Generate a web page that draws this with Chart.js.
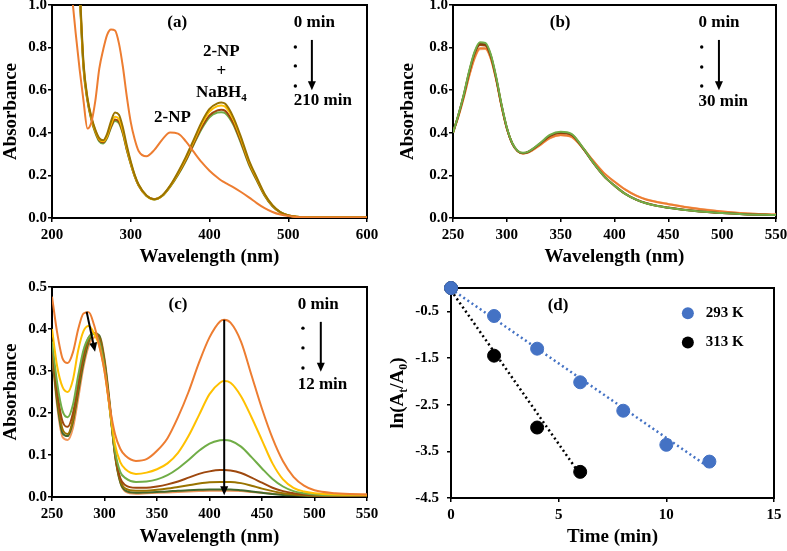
<!DOCTYPE html>
<html>
<head>
<meta charset="utf-8">
<script src="https://cdn.jsdelivr.net/npm/chart.js@4.4.1/dist/chart.umd.min.js"></script>
<style>
  body { margin: 0; background: #fff; width: 787px; height: 551px; position: relative; overflow: hidden; }
  canvas { position: absolute; }
</style>
</head>
<body>
<canvas id="chart-a" width="393" height="272" style="left:0;top:0"></canvas>
<canvas id="chart-b" width="394" height="272" style="left:393px;top:0"></canvas>
<canvas id="chart-c" width="393" height="279" style="left:0;top:272px"></canvas>
<canvas id="chart-d" width="407" height="279" style="left:380px;top:272px"></canvas>
<script>
// ---- panel (a): 2-NP alone vs 2-NP + NaBH4 over 210 min
const wlA = [225, 230, 235, 240, 245, 250, 255, 260, 265, 270, 275, 280, 285, 290, 295,
  300, 305, 310, 320, 330, 340, 350, 360, 370, 380, 390, 400, 410, 415, 420,
  430, 440, 450, 460, 470, 480, 490, 500, 510, 520, 530, 540, 560, 580, 600];
const npA = [1.06, 0.87, 0.70, 0.55, 0.42, 0.45, 0.55, 0.70, 0.79, 0.86, 0.885, 0.88, 0.82, 0.71, 0.57,
  0.45, 0.37, 0.315, 0.29, 0.32, 0.368, 0.401, 0.396, 0.36, 0.31, 0.262, 0.222, 0.19, 0.176, 0.165,
  0.145, 0.122, 0.097, 0.07, 0.046, 0.028, 0.016, 0.009, 0.005, 0.003, 0.002, 0.002, 0.002, 0.002, 0.002];
const olA = [null, null, 1.1, 0.73, 0.565, 0.475, 0.415, 0.375, 0.365, 0.395, 0.455, 0.495, 0.485, 0.425, 0.34,
  0.265, 0.203, 0.157, 0.106, 0.088, 0.106, 0.152, 0.215, 0.287, 0.368, 0.45, 0.512, 0.538, 0.542, 0.536,
  0.475, 0.38, 0.272, 0.19, 0.113, 0.06, 0.028, 0.013, 0.006, 0.003, 0.002, 0.002, 0.002, 0.002, 0.002];
const goA = [null, null, 1.08, 0.72, 0.56, 0.47, 0.41, 0.37, 0.36, 0.385, 0.44, 0.475, 0.465, 0.41, 0.33,
  0.26, 0.2, 0.155, 0.105, 0.088, 0.105, 0.15, 0.21, 0.28, 0.36, 0.44, 0.5, 0.525, 0.528, 0.522,
  0.465, 0.37, 0.265, 0.185, 0.11, 0.058, 0.027, 0.012, 0.006, 0.003, 0.002, 0.002, 0.002, 0.002, 0.002];
const brA = [null, null, 1.07, 0.71, 0.555, 0.465, 0.405, 0.365, 0.355, 0.38, 0.43, 0.462, 0.452, 0.4, 0.322,
  0.255, 0.197, 0.153, 0.104, 0.088, 0.104, 0.148, 0.205, 0.272, 0.35, 0.425, 0.482, 0.505, 0.508, 0.503,
  0.447, 0.357, 0.256, 0.179, 0.107, 0.056, 0.026, 0.012, 0.006, 0.003, 0.002, 0.002, 0.002, 0.002, 0.002];
const grA = [null, null, 1.06, 0.7, 0.55, 0.46, 0.4, 0.36, 0.35, 0.375, 0.425, 0.455, 0.445, 0.395, 0.318,
  0.252, 0.195, 0.152, 0.103, 0.087, 0.103, 0.146, 0.202, 0.268, 0.345, 0.418, 0.473, 0.495, 0.497, 0.492,
  0.44, 0.35, 0.251, 0.176, 0.105, 0.055, 0.026, 0.011, 0.006, 0.003, 0.002, 0.002, 0.002, 0.002, 0.002];

// ---- panel (b): 0 .. 30 min
const wlB = [250, 255, 260, 265, 270, 275, 280, 285, 290, 295, 300, 305, 310, 315, 320,
  330, 340, 350, 360, 370, 380, 390, 400, 410, 420, 430, 440, 450, 460, 470, 480, 500, 520, 550];
const grB = [0.40, 0.485, 0.58, 0.69, 0.78, 0.825, 0.822, 0.77, 0.665, 0.535, 0.425, 0.352, 0.316, 0.306, 0.312,
  0.348, 0.39, 0.405, 0.395, 0.335, 0.262, 0.198, 0.152, 0.113, 0.086, 0.068, 0.056, 0.048, 0.041, 0.035, 0.031, 0.023, 0.018, 0.014];
const dbB = [0.40, 0.483, 0.577, 0.685, 0.775, 0.818, 0.816, 0.765, 0.66, 0.532, 0.423, 0.351, 0.315, 0.305, 0.311,
  0.346, 0.387, 0.401, 0.392, 0.333, 0.261, 0.198, 0.152, 0.113, 0.086, 0.068, 0.056, 0.048, 0.041, 0.035, 0.031, 0.023, 0.018, 0.014];
const brB = [0.40, 0.482, 0.575, 0.682, 0.77, 0.812, 0.81, 0.76, 0.657, 0.53, 0.422, 0.35, 0.314, 0.304, 0.31,
  0.345, 0.385, 0.399, 0.39, 0.332, 0.261, 0.198, 0.152, 0.113, 0.087, 0.069, 0.057, 0.049, 0.042, 0.036, 0.031, 0.023, 0.018, 0.014];
const orB = [0.40, 0.477, 0.567, 0.668, 0.752, 0.797, 0.797, 0.752, 0.652, 0.527, 0.42, 0.35, 0.314, 0.303, 0.308,
  0.34, 0.376, 0.39, 0.382, 0.332, 0.27, 0.212, 0.17, 0.133, 0.105, 0.086, 0.074, 0.065, 0.056, 0.048, 0.041, 0.03, 0.022, 0.016];
const loB = [0.40, 0.475, 0.564, 0.664, 0.747, 0.792, 0.793, 0.748, 0.65, 0.525, 0.419, 0.349, 0.313, 0.302, 0.307,
  0.338, 0.374, 0.388, 0.38, 0.331, 0.27, 0.213, 0.171, 0.134, 0.106, 0.087, 0.075, 0.066, 0.057, 0.049, 0.042, 0.031, 0.022, 0.016];

// ---- panel (c): 0 .. 12 min
const wlC = [250, 255, 260, 265, 270, 275, 280, 285, 290, 295, 300, 305, 310, 315, 320,
  330, 340, 350, 360, 370, 380, 390, 400, 410, 414, 420, 430, 440, 450, 460, 470, 480, 490, 500, 520, 550];
const c0 = [0.477, 0.39, 0.33, 0.319, 0.345, 0.40, 0.437, 0.44, 0.41, 0.36, 0.30, 0.215, 0.15, 0.115, 0.098,
  0.086, 0.09, 0.11, 0.14, 0.19, 0.25, 0.32, 0.38, 0.418, 0.422, 0.415, 0.37, 0.29, 0.21, 0.14, 0.085, 0.048, 0.027, 0.016, 0.009, 0.006];
const c1 = [0.40, 0.31, 0.262, 0.25, 0.28, 0.35, 0.395, 0.407, 0.39, 0.36, 0.30, 0.21, 0.125, 0.083, 0.066,
  0.055, 0.058, 0.066, 0.08, 0.105, 0.145, 0.195, 0.245, 0.272, 0.276, 0.272, 0.24, 0.19, 0.135, 0.08, 0.042, 0.022, 0.013, 0.009, 0.006, 0.005];
const c2 = [0.37, 0.27, 0.205, 0.19, 0.22, 0.29, 0.35, 0.38, 0.388, 0.37, 0.31, 0.21, 0.11, 0.06, 0.045,
  0.036, 0.037, 0.042, 0.052, 0.068, 0.088, 0.11, 0.127, 0.135, 0.136, 0.134, 0.12, 0.095, 0.068, 0.043, 0.025, 0.014, 0.009, 0.006, 0.004, 0.004];
const c3 = [0.36, 0.25, 0.18, 0.167, 0.2, 0.27, 0.34, 0.38, 0.39, 0.375, 0.315, 0.21, 0.105, 0.045, 0.028,
  0.022, 0.022, 0.025, 0.03, 0.037, 0.046, 0.055, 0.061, 0.064, 0.064, 0.063, 0.057, 0.046, 0.034, 0.022, 0.014, 0.009, 0.006, 0.004, 0.003, 0.003];
const c4 = [0.35, 0.235, 0.162, 0.15, 0.185, 0.26, 0.33, 0.375, 0.39, 0.38, 0.32, 0.215, 0.1, 0.04, 0.02,
  0.015, 0.015, 0.017, 0.02, 0.024, 0.028, 0.032, 0.035, 0.036, 0.036, 0.036, 0.033, 0.027, 0.02, 0.014, 0.009, 0.006, 0.004, 0.003, 0.002, 0.002];
const c5 = [0.345, 0.225, 0.152, 0.145, 0.18, 0.25, 0.32, 0.37, 0.39, 0.385, 0.325, 0.22, 0.1, 0.035, 0.015,
  0.01, 0.011, 0.012, 0.013, 0.015, 0.016, 0.017, 0.018, 0.018, 0.018, 0.018, 0.016, 0.013, 0.01, 0.007, 0.005, 0.004, 0.003, 0.002, 0.002, 0.002];
const c6 = [0.34, 0.215, 0.143, 0.136, 0.165, 0.235, 0.31, 0.36, 0.38, 0.383, 0.33, 0.225, 0.105, 0.035, 0.013,
  0.008, 0.009, 0.01, 0.011, 0.012, 0.013, 0.014, 0.015, 0.015, 0.015, 0.015, 0.014, 0.012, 0.01, 0.008, 0.007, 0.006, 0.006, 0.006, 0.006, 0.006];

// ---- panel (d): kinetics
const t293 = [0, 2, 4, 6, 8, 10, 12];
const ln293 = [0, -0.60, -1.30, -2.02, -2.63, -3.36, -3.72];
const t313 = [0, 2, 4, 6];
const ln313 = [0, -1.45, -2.99, -3.94];
const fit293T = [0, 12], fit293Y = [-0.02, -3.85];
const fit313T = [0, 6], fit313Y = [-0.05, -4.0];

// tick labels
const xTicksA = [200, 300, 400, 500, 600];
const xTicksBC = [250, 300, 350, 400, 450, 500, 550];
const yTicksAB = [0, 0.2, 0.4, 0.6, 0.8, 1.0];
const yTicksC = [0, 0.1, 0.2, 0.3, 0.4, 0.5];
const xTicksD = [0, 5, 10, 15];
const yTicksD = [-4.5, -3.5, -2.5, -1.5, -0.5];

const FAM = '"Liberation Serif", "Times New Roman", serif';
Chart.defaults.font.family = FAM;
Chart.defaults.font.weight = "bold";
Chart.defaults.color = "#000";

const pts = (xs, ys) => xs.map((x, i) => ({ x, y: ys[i] }));

function drawRich(ctx, parts, px, py, align, size) {
  const big = `bold ${size}px ${FAM}`;
  const small = `bold ${Math.round(size * 0.65)}px ${FAM}`;
  let w = 0;
  const ws = parts.map(p => { ctx.font = p.sub ? small : big; const m = ctx.measureText(p.t).width; w += m; return m; });
  let cx = align === "left" ? px : align === "right" ? px - w : px - w / 2;
  ctx.textAlign = "left";
  ctx.textBaseline = "middle";
  parts.forEach((p, i) => {
    ctx.font = p.sub ? small : big;
    ctx.fillText(p.t, cx, py + (p.sub ? size * 0.32 : 0));
    cx += ws[i];
  });
}

function arrow(ctx, x1, y1, x2, y2) {
  const ang = Math.atan2(y2 - y1, x2 - x1);
  const hl = 9, hw = 4;
  ctx.beginPath();
  ctx.moveTo(x1, y1);
  ctx.lineTo(x2 - Math.cos(ang) * hl * 0.8, y2 - Math.sin(ang) * hl * 0.8);
  ctx.lineWidth = 2;
  ctx.stroke();
  ctx.beginPath();
  ctx.moveTo(x2, y2);
  ctx.lineTo(x2 - hl * Math.cos(ang) + hw * Math.sin(ang), y2 - hl * Math.sin(ang) - hw * Math.cos(ang));
  ctx.lineTo(x2 - hl * Math.cos(ang) - hw * Math.sin(ang), y2 - hl * Math.sin(ang) + hw * Math.cos(ang));
  ctx.closePath();
  ctx.fill();
}

const notes = {
  id: "notes",
  beforeDatasetsDraw(chart) {
    const { ctx, chartArea: ca } = chart;
    ctx.save();
    ctx.strokeStyle = "#000";
    ctx.lineWidth = 2;
    ctx.strokeRect(ca.left, ca.top, ca.right - ca.left, ca.bottom - ca.top);
    ctx.restore();
  },
  afterDraw(chart, args, opts) {
    const { ctx, chartArea: ca, scales: { x, y } } = chart;
    ctx.save();
    ctx.fillStyle = "#000";
    ctx.strokeStyle = "#000";
    (opts.texts || []).forEach(t => {
      const parts = typeof t.text === "string" ? [{ t: t.text }] : t.text;
      drawRich(ctx, parts, x.getPixelForValue(t.x), y.getPixelForValue(t.y), t.align || "center", t.size || 17);
    });
    (opts.dots || []).forEach(d => {
      ctx.beginPath();
      ctx.arc(x.getPixelForValue(d[0]), y.getPixelForValue(d[1]), 1.7, 0, Math.PI * 2);
      ctx.fill();
    });
    (opts.arrows || []).forEach(a => arrow(ctx, x.getPixelForValue(a[0]), y.getPixelForValue(a[1]), x.getPixelForValue(a[2]), y.getPixelForValue(a[3])));
    (opts.legend || []).forEach(l => {
      ctx.fillStyle = l.color;
      ctx.beginPath();
      ctx.arc(x.getPixelForValue(l.x), y.getPixelForValue(l.y), 6, 0, Math.PI * 2);
      ctx.fill();
      ctx.fillStyle = "#000";
      drawRich(ctx, [{ t: l.text }], x.getPixelForValue(l.tx), y.getPixelForValue(l.y), "left", 15);
    });
    if (opts.yTitle) {
      ctx.translate(ca.left - opts.yTitle.off, (ca.top + ca.bottom) / 2);
      ctx.rotate(-Math.PI / 2);
      drawRich(ctx, opts.yTitle.parts, 0, 0, "center", 19);
    }
    ctx.restore();
  },
};

const tickFont = { size: 15, weight: "bold" };
const titleFont = { size: 19, weight: "bold" };

function scales(o) {
  return {
    x: {
      type: "linear", min: o.xmin, max: o.xmax,
      afterBuildTicks: s => { s.ticks = o.xticks.map(v => ({ value: v })); },
      afterFit: s => { s.height = o.xh; s.paddingLeft = 0; s.paddingRight = 0; },
      grid: { drawOnChartArea: false, color: "#000", lineWidth: 1.5, tickLength: 4 },
      border: { display: false },
      ticks: { padding: 4, font: tickFont, color: "#000", maxRotation: 0, autoSkip: false, callback: v => String(v) },
      title: { display: true, text: o.xtitle, font: titleFont, color: "#000", padding: { top: 0, bottom: o.xtp } },
    },
    y: {
      type: "linear", min: o.ymin, max: o.ymax,
      afterBuildTicks: s => { s.ticks = o.yticks.map(v => ({ value: v })); },
      afterFit: s => { s.width = o.yw; s.paddingTop = 0; s.paddingBottom = 0; },
      grid: { drawOnChartArea: false, color: "#000", lineWidth: 1.5, tickLength: 4 },
      border: { display: false },
      ticks: { padding: o.ypad, font: tickFont, color: "#000", autoSkip: false, callback: v => v.toFixed(1) },
      title: { display: !!o.ytitle, text: o.ytitle, font: titleFont, color: "#000", padding: { top: o.ytp, bottom: 0 } },
    },
  };
}

function line(label, xs, ys, color) {
  return { label, data: pts(xs, ys), borderColor: color, backgroundColor: color, borderWidth: 2, pointRadius: 0, fill: false, cubicInterpolationMode: "monotone" };
}

function base(pad) {
  return {
    responsive: false, animation: false, events: [],
    layout: { padding: pad },
  };
}

// (a)
new Chart(document.getElementById("chart-a"), {
  type: "line",
  data: {
    datasets: [
      line("2-NP", wlA, npA, "#ED7D31"),
      line("olive", wlA, olA, "#997300"),
      line("gold", wlA, goA, "#FFC000"),
      line("brown", wlA, brA, "#9E480E"),
      line("green", wlA, grA, "#70AD47"),
    ],
  },
  options: {
    ...base({ top: 5, right: 26, left: 0, bottom: 0 }),
    scales: scales({ xmin: 200, xmax: 600, xticks: xTicksA, ymin: 0, ymax: 1, yticks: yTicksAB, xh: 54, yw: 52, ypad: 1, xtp: 4, ytp: 0, xtitle: "Wavelength (nm)", ytitle: "Absorbance" }),
    plugins: {
      legend: { display: false }, tooltip: { enabled: false },
      notes: {
        texts: [
          { x: 359, y: 0.915, text: "(a)" },
          { x: 507, y: 0.915, text: "0 min", align: "left" },
          { x: 507, y: 0.55, text: "210 min", align: "left" },
          { x: 415, y: 0.78, text: "2-NP" },
          { x: 415, y: 0.685, text: "+" },
          { x: 415, y: 0.59, text: [{ t: "NaBH" }, { t: "4", sub: true }] },
          { x: 353, y: 0.47, text: "2-NP" },
        ],
        dots: [[509, 0.803], [509, 0.714], [509, 0.62]],
        arrows: [[530, 0.836, 530, 0.60]],
      },
    },
  },
  plugins: [notes],
});

// (b)
new Chart(document.getElementById("chart-b"), {
  type: "line",
  data: {
    datasets: [
      line("t1", wlB, grB, "#70AD47"),
      line("t2", wlB, dbB, "#843C0C"),
      line("t3", wlB, brB, "#9E480E"),
      line("t4", wlB, orB, "#ED7D31"),
      line("t5", wlB, loB, "#F4B183"),
    ],
  },
  options: {
    ...base({ top: 5, right: 11, left: 0, bottom: 0 }),
    scales: scales({ xmin: 250, xmax: 550, xticks: xTicksBC, ymin: 0, ymax: 1, yticks: yTicksAB, xh: 54, yw: 60, ypad: 1, xtp: 4, ytp: 4, xtitle: "Wavelength (nm)", ytitle: "Absorbance" }),
    plugins: {
      legend: { display: false }, tooltip: { enabled: false },
      notes: {
        texts: [
          { x: 349.5, y: 0.915, text: "(b)" },
          { x: 478, y: 0.915, text: "0 min", align: "left" },
          { x: 478, y: 0.545, text: "30 min", align: "left" },
        ],
        dots: [[481, 0.803], [481, 0.709], [481, 0.62]],
        arrows: [[497, 0.836, 497, 0.60]],
      },
    },
  },
  plugins: [notes],
});

// (c)
new Chart(document.getElementById("chart-c"), {
  type: "line",
  data: {
    datasets: [
      line("0 min", wlC, c0, "#ED7D31"),
      line("2 min", wlC, c1, "#FFC000"),
      line("4 min", wlC, c2, "#70AD47"),
      line("6 min", wlC, c3, "#9E480E"),
      line("8 min", wlC, c4, "#997300"),
      line("10 min", wlC, c5, "#43682B"),
      line("12 min", wlC, c6, "#F1975A"),
    ],
  },
  options: {
    ...base({ top: 15, right: 26, left: 0, bottom: 0 }),
    scales: scales({ xmin: 250, xmax: 550, xticks: xTicksBC, ymin: 0, ymax: 0.5, yticks: yTicksC, xh: 54, yw: 52, ypad: 1, xtp: 3, ytp: 0, xtitle: "Wavelength (nm)", ytitle: "Absorbance" }),
    plugins: {
      legend: { display: false }, tooltip: { enabled: false },
      notes: {
        texts: [
          { x: 370, y: 0.457, text: "(c)" },
          { x: 484, y: 0.457, text: "0 min", align: "left" },
          { x: 484, y: 0.267, text: "12 min", align: "left" },
        ],
        dots: [[489, 0.402], [489, 0.355], [489, 0.307]],
        arrows: [[506, 0.417, 506, 0.298], [414, 0.422, 414, 0.004], [283, 0.441, 291, 0.346]],
      },
    },
  },
  plugins: [notes],
});

// (d)
new Chart(document.getElementById("chart-d"), {
  type: "scatter",
  data: {
    datasets: [
      { label: "293 K", data: pts(t293, ln293), backgroundColor: "#4472C4", borderColor: "#4472C4", pointRadius: 6.5, clip: false, order: 1 },
      { label: "313 K", data: pts(t313, ln313), backgroundColor: "#000", borderColor: "#000", pointRadius: 6.5, clip: false, order: 1 },
      { type: "line", label: "fit 293", data: pts(fit293T, fit293Y), borderColor: "#4472C4", borderWidth: 2.5, borderDash: [2, 3], pointRadius: 0, fill: false, order: 2 },
      { type: "line", label: "fit 313", data: pts(fit313T, fit313Y), borderColor: "#000", borderWidth: 2.5, borderDash: [2, 3], pointRadius: 0, fill: false, order: 2 },
    ],
  },
  options: {
    ...base({ top: 16, right: 13, left: 0, bottom: 0 }),
    scales: scales({ xmin: 0, xmax: 15, xticks: xTicksD, ymin: -4.5, ymax: 0, yticks: yTicksD, xh: 53, yw: 71, ypad: 8, xtp: 3, ytp: 0, xtitle: "Time (min)", ytitle: "" }),
    plugins: {
      legend: { display: false }, tooltip: { enabled: false },
      notes: {
        texts: [{ x: 4.97, y: -0.37, text: "(d)" }],
        legend: [
          { x: 11.0, y: -0.54, tx: 11.83, text: "293 K", color: "#4472C4" },
          { x: 11.0, y: -1.17, tx: 11.83, text: "313 K", color: "#000" },
        ],
        yTitle: { off: 53, parts: [{ t: "ln(A" }, { t: "t", sub: true }, { t: "/A" }, { t: "0", sub: true }, { t: ")" }] },
      },
    },
  },
  plugins: [notes],
});
</script>
</body>
</html>
